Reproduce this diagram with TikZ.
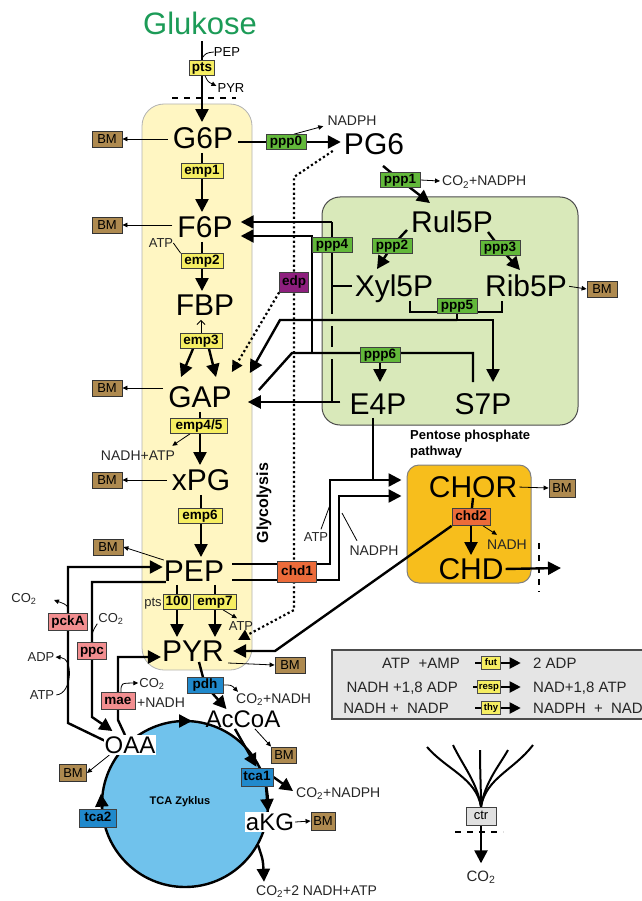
\documentclass[tikz,border=0pt]{standalone}
\usepackage{fontspec}
\setmainfont{Liberation Sans}
\usetikzlibrary{arrows.meta,positioning,calc}
\pgfdeclarelayer{bg}
\pgfdeclarelayer{lines}
\pgfsetlayers{bg,lines,main}
\definecolor{glycfill}{HTML}{FFF6C2}
\definecolor{pppfill}{HTML}{D9E9BA}
\definecolor{chorfill}{HTML}{F7BE1C}
\definecolor{tcafill}{HTML}{70C2EC}
\definecolor{legfill}{HTML}{E5E5E5}
\definecolor{enzyellow}{HTML}{F6EE62}
\definecolor{enzgreen}{HTML}{62B83A}
\definecolor{enzpink}{HTML}{F28E90}
\definecolor{enzblue}{HTML}{2089CC}
\definecolor{enzorange}{HTML}{EC6B3A}
\definecolor{enzpurple}{HTML}{8E1F7E}
\definecolor{bmbrown}{HTML}{AE8A50}
\definecolor{glcgreen}{HTML}{1C9B57}
\newcommand\fsz[1]{\fontsize{#1}{#1}\selectfont}

\begin{document}
\begin{tikzpicture}[x=1pt, y=-1pt,
  met/.style={font=\fsz{30}, inner sep=0pt, text height=21.5pt, text depth=0pt},
  mets/.style={font=\fsz{24}, inner sep=1pt, text height=17.5pt, text depth=0pt},
  enz/.style={draw=black!75, line width=0.7pt, font=\bfseries\fsz{13.5}, inner xsep=2.5pt, inner ysep=0pt, text height=10pt, text depth=2.8pt, minimum height=15pt},
  emp/.style={enz, fill=enzyellow},
  ppp/.style={enz, fill=enzgreen, minimum width=40pt},
  ana/.style={enz, fill=enzpink, minimum height=17pt},
  tca/.style={enz, fill=enzblue, minimum height=18pt},
  chd/.style={enz, fill=enzorange, minimum height=18pt},
  bm/.style={draw=black!80, line width=0.8pt, fill=bmbrown, font=\fsz{13}, inner sep=0pt, minimum width=30pt, minimum height=16pt},
  lbl/.style={font=\fsz{14}, text=black!85, inner sep=0pt, text height=10pt, text depth=0pt},
  slbl/.style={font=\fsz{13}, text=black!85, inner sep=0pt, text height=9pt, text depth=0pt},
  leg/.style={font=\fsz{15}, text=black!85, inner sep=0pt, text height=11pt, text depth=0pt},
  legenz/.style={draw=black!70, fill=enzyellow, font=\bfseries\fsz{9.5}, inner sep=1pt, minimum width=19pt, minimum height=13pt, text height=7pt, text depth=1.8pt},
  glycbox/.style={draw=black!30, line width=0.8pt, fill=glycfill, rounded corners=22pt},
  pppbox/.style={draw=black!70, line width=1pt, fill=pppfill, rounded corners=18pt},
  chorbox/.style={draw=black!50, line width=1pt, fill=chorfill, rounded corners=12pt},
  tcabox/.style={circle, draw, line width=2.4pt, fill=tcafill, inner sep=0pt},
  legbox/.style={draw=black!70, line width=1.2pt, fill=legfill},
  flux/.style={line width=2.4pt, -{Triangle[length=13pt,width=13pt]}},
  fline/.style={line width=2.4pt},
  legarr/.style={line width=2pt, -{Triangle[length=11pt,width=11pt]}},
  tarr/.style={line width=0.8pt, -{Triangle[length=5pt,width=4.5pt]}},
  tline/.style={line width=0.8pt},
  dotline/.style={line width=2.2pt, dash pattern=on 2.2pt off 2.6pt},
  dotarr/.style={dotline, -{Triangle[length=11pt,width=11pt]}},
  cutline/.style={line width=2.6pt, dash pattern=on 6pt off 6pt},
]
\useasboundingbox (0,0) rectangle (641,901);

% region boxes
\begin{pgfonlayer}{bg}
  \node[glycbox, minimum width=110pt, minimum height=566pt] (glycbg) at (197,387) {};
  \node[pppbox, minimum width=256pt, minimum height=228pt] (pppbg) at (450,311) {};
  \node[chorbox, minimum width=124pt, minimum height=118pt] (chorbg) at (469,524) {};
  \node[tcabox, minimum size=166pt] (tcacyc) at (185,804) {};
  \node[legbox, minimum width=330pt, minimum height=69pt] (legbg) at (497,684.5) {};
\end{pgfonlayer}

% metabolites
\node[font=\fsz{31}, text=glcgreen, inner sep=0pt, text height=22pt, text depth=0pt] (glc) at (200,24) {Glukose};
\node[met] (g6p) at (203,138) {G6P};
\node[met] (f6p) at (205,227) {F6P};
\node[met] (fbp) at (205,305) {FBP};
\node[met] (gap) at (200,397) {GAP};
\node[met] (xpg) at (201,480) {xPG};
\node[met] (pep) at (194,571) {PEP};
\node[met] (pyr) at (193,651) {PYR};
\node[met] (pg6) at (374,144) {PG6};
\node[met] (rul5p) at (452,222) {Rul5P};
\node[met] (xyl5p) at (394,286) {Xyl5P};
\node[met] (rib5p) at (526,286) {Rib5P};
\node[met] (e4p) at (378,404) {E4P};
\node[met] (s7p) at (483,404) {S7P};
\node[met] (chor) at (473,487) {CHOR};
\node[met] (chd) at (471,569) {CHD};
\node[mets] (accoa) at (243,719) {AcCoA};
\node[mets, fill=white] (oaa) at (130,745) {OAA};
\node[mets, fill=white] (akg) at (270,822) {aKG};

% enzymes
\node[emp] (pts) at (202,68) {pts};
\node[emp, minimum width=42pt] (emp1) at (202,171) {emp1};
\node[emp, minimum width=42pt] (emp2) at (202,261) {emp2};
\node[emp, minimum width=42pt] (emp3) at (201,341) {emp3};
\node[emp, minimum width=57pt] (emp45) at (199,426) {emp4/5};
\node[emp, minimum width=44pt] (emp6) at (200,516) {emp6};
\node[emp, minimum width=27pt] (p100) at (177,602) {100};
\node[emp, minimum width=43pt] (emp7) at (215,602) {emp7};
\node[ppp] (ppp0) at (286,142) {ppp0};
\node[ppp] (ppp1) at (400,180) {ppp1};
\node[ppp] (ppp2) at (392,246) {ppp2};
\node[ppp] (ppp3) at (500,248) {ppp3};
\node[ppp] (ppp4) at (332,245) {ppp4};
\node[ppp] (ppp5) at (457,306) {ppp5};
\node[ppp] (ppp6) at (380,355) {ppp6};
\node[enz, fill=enzpurple, minimum height=20pt] (edp) at (294,282) {edp};
\node[chd, minimum width=39pt, minimum height=21pt] (chd1) at (297,572) {chd1};
\node[chd, minimum width=38pt, minimum height=17pt] (chd2) at (471,517) {chd2};
\node[ana, minimum width=39pt] (pcka) at (68,622) {pckA};
\node[ana, minimum width=29pt] (ppc) at (92,651) {ppc};
\node[ana, minimum width=34pt] (mae) at (118,701) {mae};
\node[tca, minimum width=36pt, minimum height=16pt] (pdh) at (205,685) {pdh};
\node[tca, minimum width=32pt] (tca1) at (257,777) {tca1};
\node[tca, minimum width=37pt] (tca2) at (98,818) {tca2};
\node[enz, fill=black!12, minimum width=30pt, minimum height=18pt, font=\fsz{13}] (ctr) at (481,816) {ctr};

% biomass
\node[bm] (bm1) at (107,139) {BM};
\node[bm] (bm2) at (107,225) {BM};
\node[bm] (bm3) at (107,388) {BM};
\node[bm] (bm4) at (107,480) {BM};
\node[bm] (bm5) at (108,547) {BM};
\node[bm] (bm6) at (290,665) {BM};
\node[bm] (bmr) at (602,289) {BM};
\node[bm, minimum width=26pt, minimum height=18pt] (bmc) at (562,488) {BM};
\node[bm, minimum width=25pt] (bma) at (284,755) {BM};
\node[bm, minimum width=24pt, minimum height=18pt] (bmk) at (323,821) {BM};
\node[bm, minimum width=27pt, minimum height=17pt] (bmo) at (73,773) {BM};

% side labels
\node[slbl, text=black] (pepg) at (227,52) {PEP};
\node[slbl, text=black] (pyrg) at (231,88) {PYR};
\node[slbl] (atp1) at (161,243) {ATP};
\node[lbl] (nadhatp) at (138,455) {NADH+ATP};
\node[slbl] (ptsl) at (153,602) {pts};
\node[slbl] (atp7) at (241,626) {ATP};
\node[lbl] (nadph0) at (352,121) {NADPH};
\node[lbl, anchor=west] (co2n) at (442,181) {CO\textsubscript{2}+NADPH};
\node[slbl] (co2a) at (24,598) {CO\textsubscript{2}};
\node[slbl] (co2b) at (111,618) {CO\textsubscript{2}};
\node[slbl] (adp) at (41,657) {ADP};
\node[slbl] (atp3) at (42,695) {ATP};
\node[slbl] (co2m) at (152,683) {CO\textsubscript{2}};
\node[lbl] (nadhm) at (161,702) {+NADH};
\node[lbl, anchor=west] (co2p) at (236,698) {CO\textsubscript{2}+NADH};
\node[lbl, anchor=west] (co2t) at (296,792) {CO\textsubscript{2}+NADPH};
\node[lbl, anchor=west] (co2k) at (256,890) {CO\textsubscript{2}+2 NADH+ATP};
\node[slbl] (atpc) at (316,537) {ATP};
\node[lbl] (nadphc) at (374,550) {NADPH};
\node[lbl] (nadh2) at (507,544) {NADH};
\node[leg] (co2c) at (481,876) {CO\textsubscript{2}};
\node[font=\bfseries\fsz{16}, rotate=90, inner sep=0pt] (glyclbl) at (264,503) {Glycolysis};
\node[font=\bfseries\fontsize{13}{16}\selectfont, align=left, anchor=north west, inner sep=0pt] (ppplbl) at (410,430) {Pentose phosphate\\pathway};
\node[font=\bfseries\fsz{11}, inner sep=0pt] (tcalbl) at (180,802) {TCA Zyklus};

% legend
\node[leg, anchor=east] (l1a) at (460,663) {ATP \ +AMP};
\node[leg, anchor=east] (l2a) at (458,687) {NADH +1,8 ADP};
\node[leg, anchor=east] (l3a) at (449,708) {NADH + \ NADP};
\node[legenz] (fut) at (491,663) {fut};
\node[legenz, minimum width=23pt] (resp) at (489,687) {resp};
\node[legenz] (thy) at (491,708) {thy};
\node[leg, anchor=west] (l1b) at (533,663) {2 ADP};
\node[leg, anchor=west] (l2b) at (533,687) {NAD+1,8 ATP};
\node[leg, anchor=west] (l3b) at (533,708) {NADPH \ + \ NAD};

\begin{pgfonlayer}{lines}
  % uptake
  \draw[flux, shorten <=6pt, shorten >=5pt] (glc.south -| pts) -- (g6p.north -| pts);
  \draw[tline] (pepg.west) .. controls (206,53) .. ($(pts.north)+(0,-2)$);
  \draw[tarr] ($(pts.south)+(3,0)$) .. controls +(3,6) .. ($(pyrg.west)+(-1,-2)$);
  \draw[cutline] (172,98) -- (236,98);

  % glycolysis
  \draw[flux, shorten <=4pt, shorten >=4pt] (g6p.south -| emp1) -- (f6p.north -| emp1);
  \draw[flux, shorten <=4pt, shorten >=3pt] (f6p.south -| emp2) -- (fbp.north -| emp2);
  \draw[tline, -{Straight Barb[length=4pt,width=8pt]}, shorten >=4pt] (emp3.north) -- (emp3.north |- fbp.south);
  \draw[flux] ($(emp3.south)+(-8,0)$) -- ($(gap.north)+(-19,-9)$);
  \draw[flux] ($(emp3.south)+(8,0)$) -- ($(gap.north)+(16,-9)$);
  \draw[flux, shorten <=4pt, shorten >=4pt] (gap.south) -- (gap.south |- xpg.north);
  \draw[flux, shorten <=4pt, shorten >=3pt] (xpg.south) -- (xpg.south |- pep.north);
  \draw[flux, shorten <=3pt, shorten >=3pt] (pep.south -| p100) -- (pyr.north -| p100);
  \draw[flux, shorten <=3pt, shorten >=3pt] (pep.south -| emp7) -- (pyr.north -| emp7);
  \draw[tline] (atp1.east) -- (emp2.north west);
  \draw[tarr] ($(emp45.south)+(-9,0)$) -- ($(nadhatp.north east)+(-3,-4)$);
  \draw[tarr] ($(emp7.south)+(8,0)$) -- ($(atp7.north)+(-4,-3)$);

  % biomass drains
  \draw[tarr, shorten <=5pt] (g6p.west |- bm1) -- (bm1.east);
  \draw[tarr, shorten <=5pt] (f6p.west |- bm2) -- (bm2.east);
  \draw[tarr, shorten <=5pt] (gap.west |- bm3) -- (bm3.east);
  \draw[tarr, shorten <=5pt] (xpg.west |- bm4) -- (bm4.east);
  \draw[tarr] (pep.north west) -- (bm5.east);
  \draw[tarr] ($(pyr.east)+(4,12)$) -- (bm6.west);
  \draw[tarr, shorten <=2pt] (rib5p.east) -- (bmr.west);
  \draw[tarr, shorten <=2pt] (chor.east) -- (bmc.west);
  \draw[tarr] ($(accoa.south)+(12,0)$) -- (bma.north west);
  \draw[tarr] (akg.east) -- (bmk.west);
  \draw[tarr] ($(oaa.south west)+(6,0)$) -- (bmo.east);

  % anaplerotic reactions
  \coordinate (pk1) at (68,723);
  \coordinate (pk2) at (68,567);
  \draw[flux, shorten >=1pt] ($(oaa.north west)+(4,7)$) -- (pk1) -- (pk2) -- ($(pep.west)+(0,-4)$);
  \coordinate (pc1) at (92,582);
  \coordinate (pc2) at (92,717);
  \draw[flux] ($(pep.west)+(2,11)$) -- (pc1) -- (pc2) -- ($(oaa.north west)+(9,-4)$);
  \coordinate (ma1) at (118,720);
  \coordinate (ma2) at (118,657);
  \draw[flux, shorten >=1pt] ($(oaa.north)+(-5,0)$) -- (ma1) -- (ma2) -- ($(pyr.west)+(0,6)$);
  \coordinate (co2tip) at (54,600);
  \draw[tarr] (pcka.north) .. controls +(0,-8) .. (co2tip);
  \draw[tline] (ppc.north) .. controls +(0,-10) .. ($(co2b.south west)+(-1,1)$);
  \draw[tarr, shorten <=2pt, shorten >=1pt] (atp3.east) .. controls (72,694) and (74,658) .. (adp.east);
  \draw[tarr] ($(mae.north)+(3,0)$) .. controls +(0,-9) .. ($(co2m.west)+(-1,0)$);

  % pdh and TCA cycle
  \draw[flux] ($(pyr.south)+(6,0)$) -- (pdh.center) -- ($(accoa.north west)+(22,0)$);
  \draw[tarr] (pdh.east) .. controls +(8,0) .. ($(co2p.north west)+(2,-1)$);
  \draw[flux] (177,721) -- (192,721);
  \draw[flux, shorten >=1pt] ($(accoa.south)+(-8,0)$) -- (tca1.north);
  \draw[flux] (tca1.east) -- ($(co2t.west)+(-3,-1)$);
  \draw[flux] ($(tca1.south)+(9,0)$) -- ($(akg.north)+(-2,0)$);
  \coordinate (akgout) at (258,845);
  \draw[flux] (akgout) .. controls (263,860) .. ($(co2k.north west)+(8,-3)$);
  \draw[flux] ($(tca2.north)+(4,0)$) -- ($(tca2.north)+(3,-15)$);

  % pentose phosphate pathway
  \draw[flux, shorten <=5pt, shorten >=3pt] (g6p.east |- ppp0) -- (pg6.west |- ppp0);
  \draw[tarr] ($(ppp0.north)+(8,0)$) -- ($(nadph0.south west)+(-4,0)$);
  \draw[flux] ($(pg6.south)+(9,11)$) -- (ppp1.center) -- ($(rul5p.north)+(-22,-8)$);
  \draw[tarr] (ppp1.east) -- ($(co2n.west)+(-2,0)$);
  \draw[flux] ($(ppp2)+(15,-16)$) -- (ppp2.center) -- ($(xyl5p.north)+(-17,-6)$);
  \draw[flux] ($(ppp3)+(-12,-16)$) -- (ppp3.center) -- ($(rib5p.north)+(-6,-5)$);
  % ppp5
  \draw[fline] ($(xyl5p.south)+(16,4)$) |- ($(ppp5)+(0,6)$) -| ($(rib5p.south)+(-24,4)$);
  \coordinate (t5) at (457,320);
  \coordinate (t5l) at (280,320);
  \draw[fline] (ppp5.center) -- (t5);
  \draw[flux] (t5) -| ($(s7p.north)+(10,-11)$);
  \draw[flux] (t5) -- (t5l) -- ($(gap.north east)+(18,-13)$);
  % ppp6
  \coordinate (t6) at (312,353);
  \coordinate (t6l) at (292,353);
  \draw[fline] ($(gap.east)+(27,-7)$) -- (t6l) -| ($(s7p.north)+(-10,-11)$);
  \draw[flux] (t6) |- ($(f6p.east)+(8,9)$);
  \draw[flux] (ppp6.center) -- ($(e4p.north)+(2,-11)$);
  % ppp4
  \coordinate (t4a) at (332,222);
  \coordinate (t4b) at (332,402);
  \draw[flux] (t4a) -- ($(f6p.east)+(8,-5)$);
  \draw[fline] (t4a) -- ($(t4a)+(0,92)$);
  \draw[fline] ($(t4a)+(0,104)$) -- ($(t4a)+(0,125)$);
  \draw[fline] ($(t4a)+(0,137)$) -- (t4b);
  \draw[fline, shorten >=3pt] (332,286) -- (xyl5p.west);
  \draw[flux] ($(e4p.west)+(-9,-2)$) -- ($(gap.east)+(16,5)$);

  % Entner-Doudoroff
  \coordinate (ed1) at (294,177);
  \coordinate (ed2) at (294,610);
  \draw[dotarr] ($(pg6.south west)+(-11,-4)$) -- (ed1) -- (ed2) -- ($(pyr.east)+(14,-11)$);
  \draw[dotarr] (edp.south west) -- ($(gap.north east)+(0,-14)$);

  % chorismate branch
  \coordinate (c1) at (330,480);
  \coordinate (c2) at (339,496);
  \draw[flux, shorten >=5pt] ($(pep.east)+(8,-7)$) -| (c1) -- (c1 -| chorbg.west);
  \draw[flux, shorten >=5pt] ($(pep.east)+(8,9)$) -| (c2) -- (c2 -| chorbg.west);
  \coordinate (e4pout) at ($(e4p.south)+(-5,3)$);
  \draw[fline] (e4pout) -- (e4pout |- c1);
  \draw[tline] ($(c1)+(0,25)$) -- ($(atpc.north)+(5,-3)$);
  \draw[tline] ($(c2)+(3,17)$) -- ($(nadphc.north)+(-17,-4)$);
  \draw[fline] (chor.south) -- (chd2.center);
  \draw[flux, shorten >=3pt] (chd2.center) -- (chd.north);
  \draw[tarr] ($(chd2.south)+(12,0)$) -- ($(nadh2.north)+(-10,-4)$);
  \coordinate (pyrin) at (275,651);
  \draw[flux] (chd2.south west) -- (pyrin) -- ($(pyr.east)+(9,0)$);
  \coordinate (chdout) at (561,568);
  \draw[flux, shorten <=2pt] (chd.east) -- (chdout);
  \draw[cutline] (539,543) -- (539,592);

  % legend arrows
  \draw[legarr] ($(fut.west)+(-6,0)$) -- ($(fut.east)+(20,0)$);
  \draw[legarr] ($(resp.west)+(-4,0)$) -- ($(resp.east)+(20,0)$);
  \draw[legarr] ($(thy.west)+(-6,0)$) -- ($(thy.east)+(20,0)$);

  % respiratory drain
  \foreach \sx/\sy/\ax/\ay/\bx/\by in {427/747/447/770/476/778, 453/745/463/766/477/782, 480/750/480/770/481/790, 508/750/499/766/485/782, 533/745/514/770/486/778}
    \draw[line width=2pt] (\sx,\sy) .. controls (\ax,\ay) and (\bx,\by) .. (ctr.north);
  \draw[cutline] (455,832) -- (503,832);
  \draw[flux, shorten >=7pt] (ctr.south) -- (co2c.north);
\end{pgfonlayer}
\end{tikzpicture}
\end{document}
